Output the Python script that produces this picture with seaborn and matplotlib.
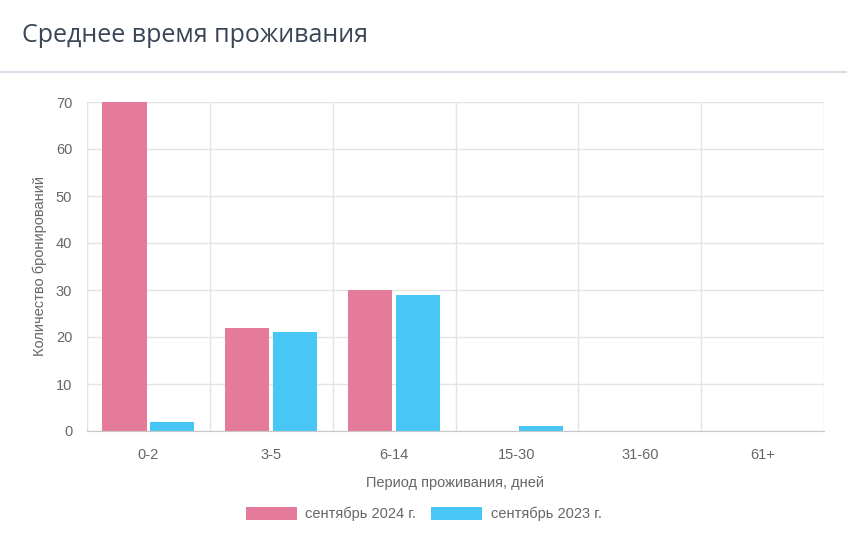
import matplotlib
matplotlib.use("Agg")
import matplotlib.pyplot as plt
from matplotlib.lines import Line2D
from matplotlib.patches import Patch
import pandas as pd
import seaborn as sns

# data
periods = ["0-2", "3-5", "6-14", "15-30", "31-60", "61+"]
sep_2024 = [70, 22, 30, 0, 0, 0]
sep_2023 = [2, 21, 29, 1, 0, 0]
series_names = ["сентябрь 2024 г.", "сентябрь 2023 г."]
y_ticks = [0, 10, 20, 30, 40, 50, 60, 70]

colors = ["#e57b9a", "#48c7f6"]
grid_c = "#e4e4e4"
text_c = "#666666"

df = pd.DataFrame({
    "period": periods * 2,
    "count": sep_2024 + sep_2023,
    "series": [series_names[0]] * len(periods) + [series_names[1]] * len(periods),
})

sns.set_style("white")
plt.rcParams["font.family"] = ["Liberation Sans", "DejaVu Sans"]

fig = plt.figure(figsize=(8.47, 5.55), dpi=100)
ax = fig.add_axes([87 / 847, 1 - 431 / 555, (824 - 87) / 847, (431 - 102) / 555])

sns.barplot(data=df, x="period", y="count", hue="series", palette=colors,
            width=0.78, gap=0.08, linewidth=0, saturation=1, ax=ax, legend=False)

ax.set_xlim(-0.5, len(periods) - 0.5)
ax.set_ylim(0, 70)
ax.set_yticks(y_ticks)
ax.set_xticks(range(len(periods)))
ax.set_xticks([i - 0.5 for i in range(len(periods) + 1)], minor=True)

# grid
ax.grid(True, axis="y", color=grid_c, linewidth=1)
ax.grid(True, axis="x", which="minor", color=grid_c, linewidth=1)
ax.set_axisbelow(True)
for s in ["top", "right"]:
    ax.spines[s].set_visible(False)
ax.spines["left"].set_color(grid_c)
ax.spines["bottom"].set_color("#c8c8c8")

ax.tick_params(axis="x", which="major", length=0, pad=12, labelsize=10.5, labelcolor=text_c)
ax.tick_params(axis="x", which="minor", length=7.2, color=grid_c, width=1)
ax.tick_params(axis="y", length=7, color=grid_c, width=1, pad=3.6, labelsize=10.5, labelcolor=text_c)

ax.set_xlabel("Период проживания, дней", fontsize=10.5, color=text_c, labelpad=10)
ax.set_ylabel("Количество бронирований", fontsize=10.5, color=text_c, labelpad=6.5)

# title and divider
fig.text(22 / 847, 1 - 35 / 555, "Среднее время проживания", fontsize=18,
         color="#3a4656", va="center", ha="left", family=["Open Sans", "DejaVu Sans"])
fig.add_artist(Line2D([0, 1], [1 - 72 / 555, 1 - 72 / 555], transform=fig.transFigure,
                      color="#cdd8e3", linewidth=1.2))

handles = [Patch(facecolor=c, edgecolor="none") for c in colors]
fig.legend(handles, series_names, loc="center", bbox_to_anchor=(0.5, 1 - 514 / 555),
           ncol=2, frameon=False, fontsize=10.5, labelcolor=text_c,
           handlelength=3.5, handleheight=1.0, handletextpad=0.6, columnspacing=1.0)

fig.savefig("out.png", dpi=100)
